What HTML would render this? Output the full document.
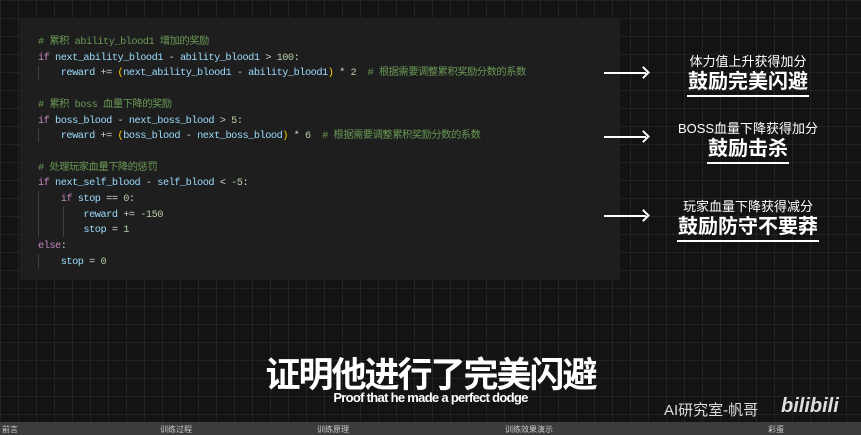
<!DOCTYPE html>
<html><head><meta charset="utf-8"><style>
body{margin:0;width:861px;height:435px;overflow:hidden;background:#131313;position:relative;
background-image:linear-gradient(#232323 1px,transparent 1px),linear-gradient(90deg,#232323 1px,transparent 1px);background-size:18px 18px;font-family:"Liberation Sans","Noto Sans CJK SC",sans-serif}
.panel{position:absolute;left:20px;top:18px;width:600px;height:262px;background:#1e1e1e}
.code{position:absolute;left:38px;top:35px;font-family:"Liberation Mono","Noto Sans CJK SC",monospace;font-size:10.3px;letter-spacing:-0.5px;line-height:15.7px;color:#9cdcfe;white-space:pre}
.k{color:#c586c0}.c{color:#6a9955}.n{color:#b5cea8}.o{color:#d4d4d4}.p{color:#ffd700}
.g{position:absolute;width:1px;background:#404040}
.ar{position:absolute;height:2px;background:#fff;width:42px;left:604px}
.ar:after{content:"";position:absolute;right:-2px;top:-4px;width:7px;height:7px;border-top:2px solid #fff;border-right:2px solid #fff;transform:rotate(45deg)}
.lb{position:absolute;left:640px;width:216px;text-align:center;color:#fff}
.s{font-size:13px}
.b{font-size:20px;font-weight:bold;display:inline-block;border-bottom:2px solid #fff;line-height:24px;padding:0 1px 1px}
.title{position:absolute;left:0;width:861px;text-align:center;top:347px;color:#fff;font-size:35px;font-weight:bold;letter-spacing:-2px}
.sub{position:absolute;left:0;width:861px;text-align:center;top:390px;color:#fff;font-size:13px;font-weight:bold;letter-spacing:-0.7px}
.bar{position:absolute;left:0;top:422px;width:861px;height:13px;background:#3c3c3c;font-size:8px;color:#ccc}
.bar span{position:absolute;top:2px}
</style></head><body>
<div class="panel"></div>
<div class="g" style="left:38px;top:66px;height:14px"></div>
<div class="g" style="left:38px;top:128px;height:14px"></div>
<div class="g" style="left:38px;top:191px;height:46px"></div>
<div class="g" style="left:63px;top:206px;height:31px"></div>
<div class="g" style="left:38px;top:254px;height:14px"></div>
<div class="code"><span class="c"># 累积 ability_blood1 增加的奖励</span>
<span class="k">if</span> next_ability_blood1 <span class="o">-</span> ability_blood1 <span class="o">&gt;</span> <span class="n">100</span><span class="o">:</span>
    reward <span class="o">+=</span> <span class="p">(</span>next_ability_blood1 <span class="o">-</span> ability_blood1<span class="p">)</span> <span class="o">*</span> <span class="n">2</span>  <span class="c"># 根据需要调整累积奖励分数的系数</span>

<span class="c"># 累积 boss 血量下降的奖励</span>
<span class="k">if</span> boss_blood <span class="o">-</span> next_boss_blood <span class="o">&gt;</span> <span class="n">5</span><span class="o">:</span>
    reward <span class="o">+=</span> <span class="p">(</span>boss_blood <span class="o">-</span> next_boss_blood<span class="p">)</span> <span class="o">*</span> <span class="n">6</span>  <span class="c"># 根据需要调整累积奖励分数的系数</span>

<span class="c"># 处理玩家血量下降的惩罚</span>
<span class="k">if</span> next_self_blood <span class="o">-</span> self_blood <span class="o">&lt;</span> <span class="n">-5</span><span class="o">:</span>
    <span class="k">if</span> stop <span class="o">==</span> <span class="n">0</span><span class="o">:</span>
        reward <span class="o">+=</span> <span class="n">-150</span>
        stop <span class="o">=</span> <span class="n">1</span>
<span class="k">else</span><span class="o">:</span>
    stop <span class="o">=</span> <span class="n">0</span></div>
<div class="ar" style="top:72px"></div>
<div class="ar" style="top:136px"></div>
<div class="ar" style="top:215px"></div>
<div class="lb" style="top:51px"><div class="s">体力值上升获得加分</div><div class="b">鼓励完美闪避</div></div>
<div class="lb" style="top:118px"><div class="s">BOSS血量下降获得加分</div><div class="b">鼓励击杀</div></div>
<div class="lb" style="top:196px"><div class="s">玩家血量下降获得减分</div><div class="b">鼓励防守不要莽</div></div>
<div class="title">证明他进行了完美闪避</div>
<div class="sub">Proof that he made a perfect dodge</div>
<div style="position:absolute;left:664px;top:399px;color:#ddd;font-size:15px">AI研究室-帆哥</div>
<div style="position:absolute;left:781px;top:395px;color:#ddd;font-size:20px;font-weight:bold;font-style:italic">bilibili</div>
<div class="bar"><span style="left:2px">前言</span><span style="left:160px">训练过程</span><span style="left:317px">训练原理</span><span style="left:505px">训练效果演示</span><span style="left:768px">彩蛋</span></div>
</body></html>
